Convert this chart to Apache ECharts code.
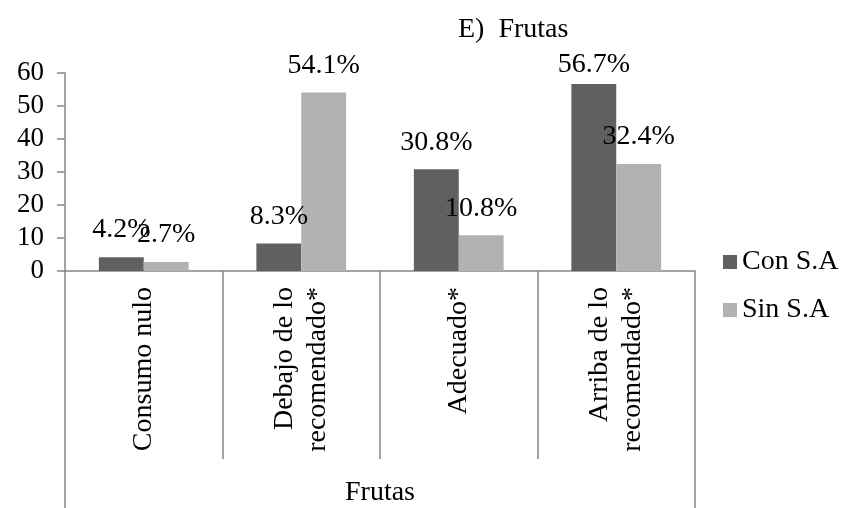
<!DOCTYPE html>
<html>
<head>
<meta charset="utf-8">
<script src="https://cdn.jsdelivr.net/npm/echarts@6/dist/echarts.min.js"></script>
<style>html,body{margin:0;padding:0;background:#fff}#c{width:859px;height:508px}</style>
</head>
<body>
<div id="c"></div>
<script>
var categories = ['Consumo nulo', 'Debajo de lo\nrecomendado*', 'Adecuado*', 'Arriba de lo\nrecomendado*'];
var groupLabel = ['Frutas'];
var seriesNames = ['Con S.A', 'Sin S.A'];
var conSA = [4.2, 8.3, 30.8, 56.7];
var sinSA = [2.7, 54.1, 10.8, 32.4];
var yTicks = [0, 10, 20, 30, 40, 50, 60];

var FONT = '"Liberation Serif", "DejaVu Serif", serif';
var axisColor = '#868686';

function withLabels(vals) {
  return vals.map(function (v) {
    return { value: v, label: { distance: v > 55 ? 5 : 13 } };
  });
}

var chart = echarts.init(document.getElementById('c'));
chart.setOption({
  animation: false,
  title: {
    text: 'E)  Frutas',
    left: 453, top: 11,
    textStyle: { fontFamily: FONT, fontSize: 28, fontWeight: 'normal', color: '#000' }
  },
  legend: {
    orient: 'vertical',
    left: 718, top: 243,
    itemWidth: 14, itemHeight: 14, itemGap: 20,
    icon: 'rect',
    textStyle: { fontFamily: FONT, fontSize: 28, color: '#000' },
    data: seriesNames
  },
  grid: { left: 65, right: 164, top: 73, bottom: 237, containLabel: false },
  xAxis: [{
    type: 'category',
    data: categories,
    axisLine: { lineStyle: { color: axisColor, width: 1.5 } },
    axisTick: { show: true, interval: 0, length: 188, lineStyle: { color: axisColor, width: 1.5 } },
    axisLabel: {
      interval: 0, rotate: 90, margin: 16,
      fontFamily: FONT, fontSize: 28, lineHeight: 33, color: '#000'
    }
  }, {
    type: 'category',
    position: 'bottom',
    data: groupLabel,
    axisLine: { show: false },
    axisTick: { show: true, length: 240, lineStyle: { color: axisColor, width: 1.5 } },
    axisLabel: { margin: 208, fontFamily: FONT, fontSize: 28, color: '#000' }
  }],
  yAxis: {
    type: 'value',
    min: 0, max: 60, interval: 10,
    axisLine: { show: true, lineStyle: { color: axisColor, width: 1.5 } },
    axisTick: { show: true, length: 8, lineStyle: { color: axisColor, width: 1.5 } },
    splitLine: { show: false },
    axisLabel: {
      margin: 21, fontFamily: FONT, fontSize: 27, color: '#000',
      formatter: function (v) { return yTicks.indexOf(v) >= 0 ? String(v) : ''; }
    }
  },
  series: [{
    name: seriesNames[0], type: 'bar', xAxisIndex: 0,
    data: withLabels(conSA),
    itemStyle: { color: '#606060' },
    barGap: '0%', barCategoryGap: '43%',
    label: { show: true, position: 'top', formatter: '{c}%', fontFamily: FONT, fontSize: 28, color: '#000' }
  }, {
    name: seriesNames[1], type: 'bar', xAxisIndex: 0,
    data: withLabels(sinSA),
    itemStyle: { color: '#b2b2b2' },
    barGap: '0%', barCategoryGap: '43%',
    label: { show: true, position: 'top', formatter: '{c}%', fontFamily: FONT, fontSize: 28, color: '#000' }
  }]
});
</script>
</body>
</html>
